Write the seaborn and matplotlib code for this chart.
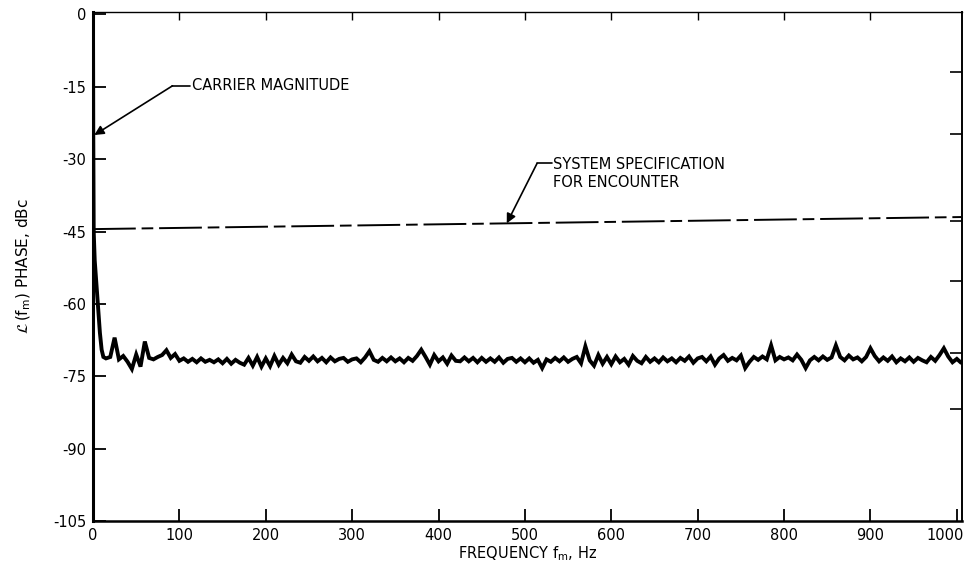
import numpy as np
import pandas as pd
import matplotlib
matplotlib.use("Agg")
import matplotlib.pyplot as plt
from matplotlib.transforms import ScaledTranslation
import seaborn as sns

# Carrier roll-off near 0 Hz
rolloff_freq = [0.0, 0.3, 0.8, 2.0, 4.0, 6.0, 8.0, 10.0, 12.0]
rolloff_level = [0.0, -25.0, -45.0, -51.0, -56.0, -61.0, -66.0, -69.5, -71.0]

# Measured phase-noise floor, 15 Hz to 1005 Hz in 5 Hz steps
floor_freq = np.arange(15, 1006, 5)
floor_level = [
    # 15 - 100
    -71.3, -71.0, -67.0, -71.5, -70.8, -72.0, -73.5, -70.5, -73.0, -67.8,
    -71.2, -71.5, -71.0, -70.6, -69.6, -71.2, -70.4, -71.8,
    # 105 - 200
    -71.3, -72.0, -71.4, -72.1, -71.3, -72.0, -71.6, -72.1, -71.5, -72.3,
    -71.4, -72.4, -71.6, -72.2, -72.6, -71.2, -72.8, -71.0, -73.0, -71.3,
    # 205 - 300
    -72.9, -70.8, -72.6, -71.2, -72.3, -70.5, -71.9, -72.2, -71.0, -71.8,
    -70.9, -71.9, -71.2, -72.1, -71.1, -71.9, -71.4, -71.2, -72.0, -71.5,
    # 305 - 400
    -71.3, -72.1, -71.1, -69.8, -71.6, -72.0, -71.2, -71.9, -71.1, -71.9,
    -71.3, -72.1, -71.2, -71.8, -70.8, -69.5, -71.0, -72.6, -70.6, -71.9,
    # 405 - 500
    -71.1, -72.4, -70.7, -71.8, -71.9, -71.1, -71.9, -71.2, -72.1, -71.2,
    -72.0, -71.3, -72.0, -71.1, -72.2, -71.4, -71.2, -72.0, -71.3, -72.1,
    # 505 - 600
    -71.3, -72.2, -71.6, -73.3, -71.5, -72.0, -71.2, -71.9, -71.1, -72.0,
    -71.4, -71.0, -72.3, -68.8, -71.7, -72.8, -70.6, -72.4, -71.0, -72.5,
    # 605 - 700
    -70.9, -72.1, -71.4, -72.6, -70.8, -71.8, -72.3, -71.0, -72.0, -71.3,
    -72.1, -71.1, -71.9, -71.3, -72.1, -71.2, -71.8, -70.9, -72.2, -71.3,
    # 705 - 800
    -71.0, -71.9, -70.9, -72.6, -71.3, -70.6, -71.8, -71.2, -71.7, -70.7,
    -73.3, -72.0, -71.0, -71.6, -70.9, -71.5, -68.6, -71.7, -71.0, -71.5,
    # 805 - 900
    -71.1, -71.7, -70.5, -71.6, -73.3, -71.7, -71.0, -71.7, -70.9, -71.6,
    -71.1, -68.6, -71.0, -71.7, -70.7, -71.5, -71.1, -71.9, -71.0, -69.2,
    # 905 - 1005
    -70.8, -71.9, -71.1, -71.8, -70.9, -72.1, -71.3, -71.9, -71.1, -72.0,
    -71.2, -71.7, -72.1, -71.0, -71.8, -70.6, -69.2, -70.9, -72.1, -71.4,
    -72.2,
]

# System specification for encounter
spec_freq = [0.0, 1005.0]
spec_level = [-44.5, -42.0]

x_ticks = [0, 100, 200, 300, 400, 500, 600, 700, 800, 900, 1000]
y_ticks = [0, -15, -30, -45, -60, -75, -90, -105]
right_ticks = [-12.0, -24.7, -42.8, -55.3, -70.2, -81.7]

trace = pd.DataFrame({
    "freq": list(rolloff_freq) + list(floor_freq),
    "level": list(rolloff_level) + list(floor_level),
})
spec = pd.DataFrame({"freq": spec_freq, "level": spec_level})

sns.set_style("ticks")
plt.rcParams["font.family"] = ["DejaVu Sans"]
plt.rcParams["axes.unicode_minus"] = False
plt.rcParams["mathtext.fontset"] = "dejavusans"
plt.rcParams["text.color"] = "black"
plt.rcParams["axes.labelcolor"] = "black"
plt.rcParams["xtick.color"] = "black"
plt.rcParams["ytick.color"] = "black"

FS = 10.5

fig = plt.figure(figsize=(9.70, 5.81), dpi=100)
ax = fig.add_axes([93 / 970, 1 - 521 / 581, (962 - 93) / 970, (521 - 12) / 581])

sns.lineplot(data=trace, x="freq", y="level", ax=ax, color="black",
             linewidth=2.8, sort=False, estimator=None)
sns.lineplot(data=spec, x="freq", y="level", ax=ax, color="black",
             linewidth=1.4, estimator=None)
ax.lines[0].set_solid_joinstyle("miter")
ax.lines[-1].set_dashes((22, 3, 6, 3))

ax.set_xlim(0, 1006)
ax.set_ylim(-105, 0.5)
ax.set_xticks(x_ticks)
ax.set_xticklabels([str(v) for v in x_ticks])
ax.set_yticks(y_ticks)
ax.set_yticklabels([str(v) for v in y_ticks])
ax.tick_params(axis="both", direction="in", length=9, width=1.3,
               labelsize=FS, pad=5, colors="black")

# keep the last frequency label inside the frame edge
for lab in ax.get_xticklabels():
    if lab.get_text() == "1000":
        lab.set_ha("right")
        lab.set_transform(lab.get_transform() +
                          ScaledTranslation(5 / 72, 0, fig.dpi_scale_trans))

ax.spines["left"].set_linewidth(2.2)
ax.spines["bottom"].set_linewidth(1.8)
ax.spines["right"].set_linewidth(1.4)
ax.spines["top"].set_linewidth(1.0)
for s in ax.spines.values():
    s.set_color("black")

top = ax.secondary_xaxis("top")
top.set_xticks(x_ticks[1:-1])
top.tick_params(direction="in", length=6, width=1.0, labeltop=False)
top.spines["top"].set_visible(False)

right = ax.secondary_yaxis("right")
right.set_yticks(right_ticks)
right.tick_params(direction="in", length=9, width=1.2, labelright=False)
right.spines["right"].set_visible(False)

ax.set_xlabel(r"FREQUENCY f$_{\mathrm{m}}$, Hz", fontsize=FS, labelpad=1)
ax.set_ylabel(r"$\mathcal{L}\,(\mathrm{f_m})$ PHASE, dBc", fontsize=FS + 0.5,
              labelpad=14)

# Carrier magnitude callout
ax.annotate("", xy=(1.5, -25.0), xytext=(92, -14.8),
            arrowprops=dict(arrowstyle="-|>", color="black", lw=1.2,
                            mutation_scale=14, shrinkA=0, shrinkB=0))
ax.plot([92, 112], [-14.8, -14.8], color="black", lw=1.2)
ax.text(115, -14.8, "CARRIER MAGNITUDE", fontsize=FS, va="center", ha="left")

# Specification callout
tip_x = 479
tip_y = spec_level[0] + (spec_level[1] - spec_level[0]) * tip_x / spec_freq[1]
ax.annotate("", xy=(tip_x, tip_y), xytext=(514, -30.9),
            arrowprops=dict(arrowstyle="-|>", color="black", lw=1.2,
                            mutation_scale=14, shrinkA=0, shrinkB=0))
ax.plot([514, 531], [-30.9, -30.9], color="black", lw=1.2)
ax.text(533, -29.6, "SYSTEM SPECIFICATION\nFOR ENCOUNTER", fontsize=FS,
        va="top", ha="left", linespacing=1.25)

fig.savefig("out.png", dpi=100, facecolor="white")
